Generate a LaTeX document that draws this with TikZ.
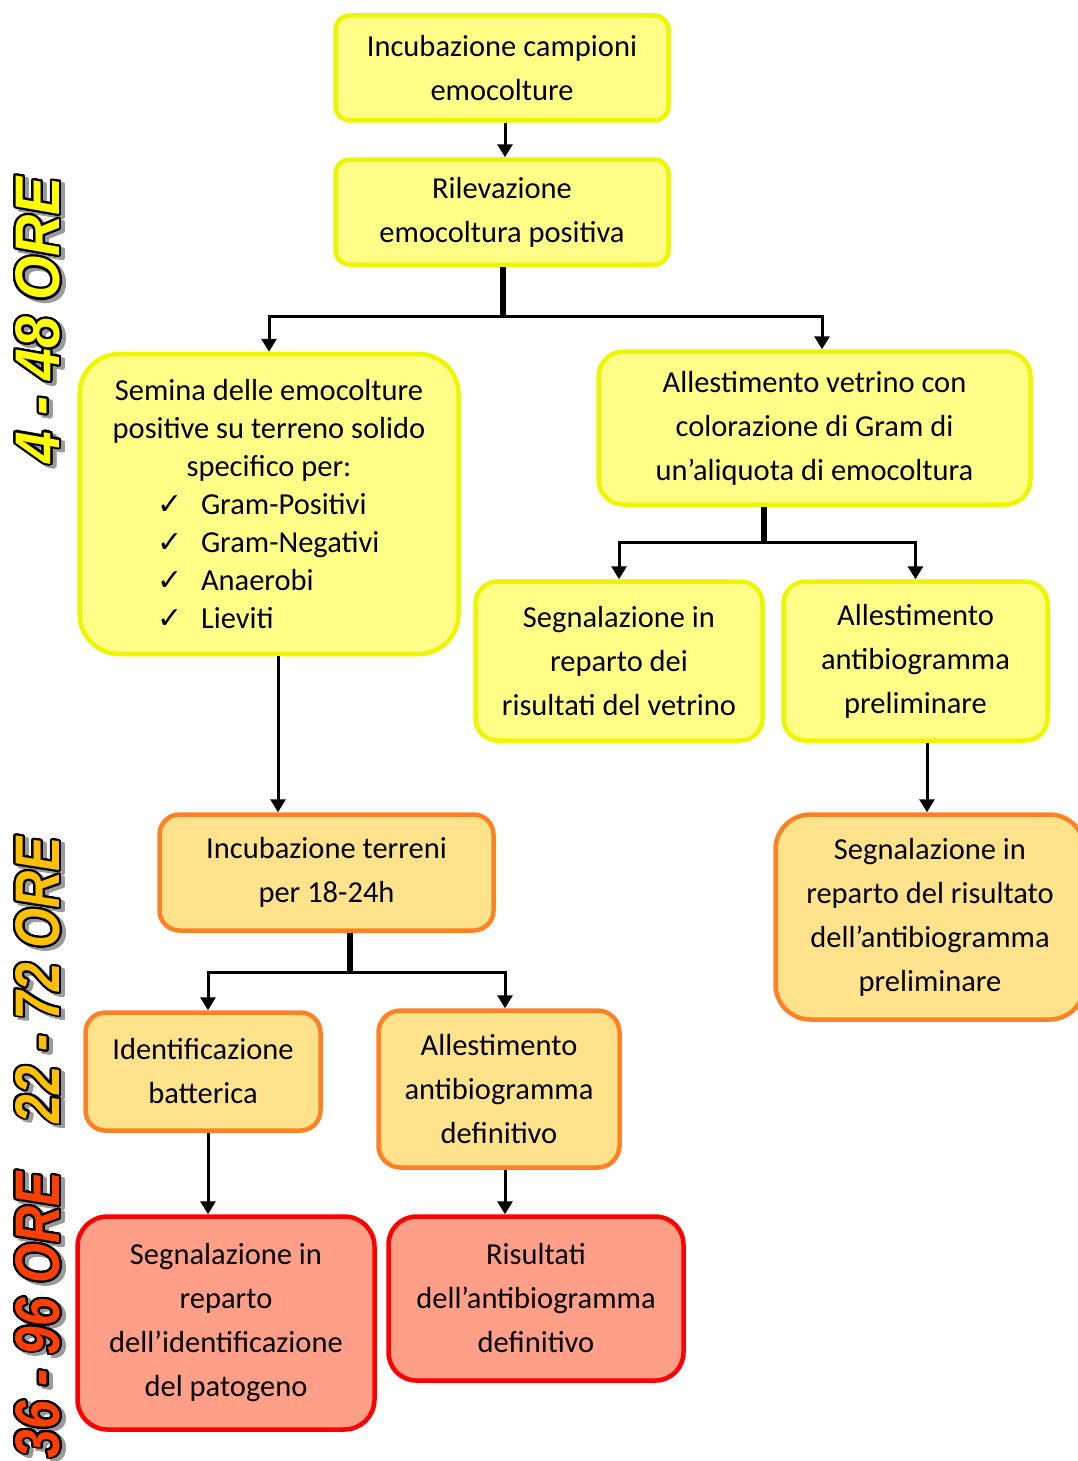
\documentclass[tikz,border=0pt]{standalone}
\usepackage{fontspec}
\setmainfont{Carlito}
\newfontfamily\orefont{Liberation Sans}
\newfontfamily\chkfont{DejaVu Sans}
\usepackage{graphicx}
\usepackage{contour}
\usetikzlibrary{arrows.meta,calc}
\contourlength{2pt}
\contournumber{24}

\definecolor{ylwfill}{HTML}{FFFF88}
\definecolor{ylwline}{HTML}{EEF500}
\definecolor{orgfill}{HTML}{FFE38C}
\definecolor{orgline}{HTML}{FF8126}
\definecolor{redfill}{HTML}{FF9F88}
\definecolor{redline}{HTML}{FF0000}
\definecolor{oreylw}{HTML}{FFFF00}
\definecolor{oreorg}{HTML}{FFC000}
\definecolor{orered}{HTML}{FF3F00}
\definecolor{oreshd}{HTML}{9A9A9A}

\tikzset{
  box/.style={draw, line width=4.5pt, rounded corners=14pt, align=center,
    inner sep=0pt, font=\fontsize{30.5}{44}\selectfont},
  ybox/.style={box, draw=ylwline, fill=ylwfill},
  obox/.style={box, draw=orgline, fill=orgfill},
  rbox/.style={box, draw=redline, fill=redfill},
  link/.style={line width=3pt, -{Triangle[length=13pt,width=15pt]}},
  stem/.style={line width=5.5pt},
  orelbl/.style={rotate=90, inner sep=0pt,
    font=\orefont\bfseries\itshape\fontsize{56}{56}\selectfont}
}

% check mark item of the list
\newcommand\chk[1]{\makebox[224pt][l]{\makebox[44pt][l]{\chkfont\fontsize{30}{30}\selectfont ✓}#1}}
% time label with shadow and outline
\newcommand\orelabel[4]{%
  \node[orelbl, text=oreshd] at ($(#1)+(4,3)$) {\resizebox{286pt}{44pt}{\contour{oreshd}{#4}}};
  \node[orelbl, text=#3] (#2) at (#1) {\resizebox{286pt}{44pt}{\contour{black}{#4}}};}

\begin{document}
\begin{tikzpicture}[x=1pt,y=-1pt]
    \useasboundingbox (0,0) rectangle (1077,1461);

    % time labels
    \orelabel{39,320}{ore1}{oreylw}{4 - 48 ORE}
    \orelabel{39,980}{ore2}{oreorg}{22 - 72 ORE}
    \orelabel{39,1315}{ore3}{orered}{36 - 96 ORE}

    % yellow boxes
    \node[ybox, minimum width=333, minimum height=105] (incub) at (502,68)
    {Incubazione campioni\\emocolture};

    \node[ybox, minimum width=333, minimum height=105] (rilev) at (502,212)
    {Rilevazione\\emocoltura positiva};

    \node[ybox, rounded corners=40, minimum width=379, minimum height=300,
    font=\fontsize{30.5}{38}\selectfont] (semina) at (269,504)
    {Semina delle emocolture\\positive su terreno solido\\specifico per:\\
    \chk{Gram-Positivi}\\\chk{Gram-Negativi}\\\chk{Anaerobi}\\\chk{Lieviti}};

    \node[ybox, rounded corners=25, minimum width=432, minimum height=153] (vetrino) at (814.5,428)
    {Allestimento vetrino con\\colorazione di Gram di\\un’aliquota di emocoltura};

    \node[ybox, rounded corners=22, minimum width=287, minimum height=159] (segnvetr) at (619,661)
    {Segnalazione in\\reparto dei\\risultati del vetrino};

    \node[ybox, rounded corners=22, minimum width=264, minimum height=159] (antiprel) at (915.5,661)
    {Allestimento\\antibiogramma\\preliminare};

    % orange boxes
    \node[obox, rounded corners=20, minimum width=334, minimum height=116] (terreni) at (326.5,872.5)
    {Incubazione terreni\\per 18-24h};

    \node[obox, rounded corners=35, minimum width=309, minimum height=205] (segnanti) at (930,917)
    {Segnalazione in\\reparto del risultato\\dell’antibiogramma\\preliminare};

    \node[obox, rounded corners=20, minimum width=235, minimum height=118] (ident) at (203,1071.5)
    {Identificazione\\batterica};

    \node[obox, rounded corners=22, minimum width=241, minimum height=157] (antidef) at (499,1089)
    {Allestimento\\antibiogramma\\definitivo};

    % red boxes
    \node[rbox, rounded corners=30, minimum width=297, minimum height=213] (segnident) at (226,1323)
    {Segnalazione in\\reparto\\dell’identificazione\\del patogeno};

    \node[rbox, rounded corners=28, minimum width=295, minimum height=164] (risultati) at (536,1298.5)
    {Risultati\\dell’antibiogramma\\definitivo};

    % connectors
    \draw[link] ([xshift=3]incub.south) -- ([xshift=3]rilev.north);

    \draw[stem] ([xshift=1]rilev.south) -- ++(0,50) coordinate (bus1);
    \draw[link] (bus1) -| (semina.north);
    \draw[link] (bus1) -| ([xshift=7.5]vetrino.north);

    \draw[stem] ([xshift=-50.5]vetrino.south) -- ++(0,36) coordinate (bus2);
    \draw[link] (bus2) -| (segnvetr.north);
    \draw[link] (bus2) -| (antiprel.north);

    \coordinate (s1) at ([xshift=9]semina.south);
    \draw[link] (s1) -- (s1 |- terreni.north);

    \coordinate (s2) at ([xshift=11.5]antiprel.south);
    \draw[link] (s2) -- (s2 |- segnanti.north);

    \draw[stem] ([xshift=23.5]terreni.south) -- ++(0,40) coordinate (bus3);
    \draw[link] (bus3) -| ([xshift=5]ident.north);
    \draw[link] (bus3) -| ([xshift=6]antidef.north);

    \coordinate (s3) at ([xshift=5]ident.south);
    \draw[link] (s3) -- (s3 |- segnident.north);

    \coordinate (s4) at ([xshift=6]antidef.south);
    \draw[link] (s4) -- (s4 |- risultati.north);
\end{tikzpicture}
\end{document}
